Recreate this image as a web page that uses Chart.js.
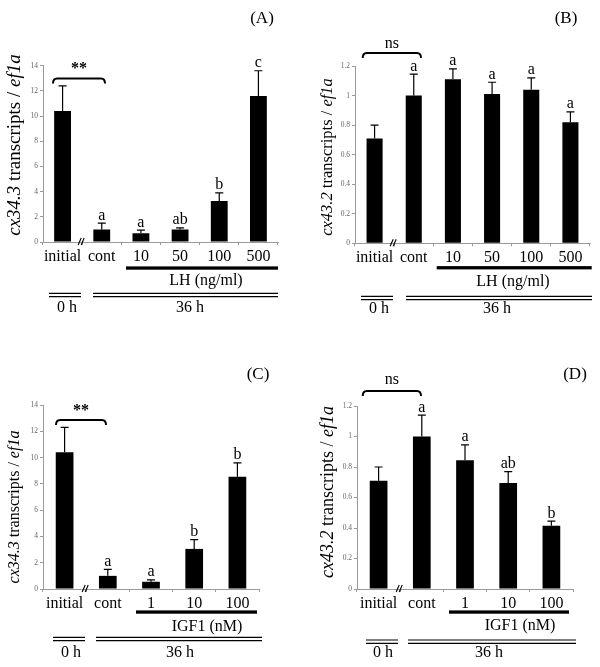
<!DOCTYPE html>
<html>
<head>
<meta charset="utf-8">
<script src="https://cdn.jsdelivr.net/npm/chart.js@4.4.0/dist/chart.umd.min.js"></script>
<style>
  html, body { margin: 0; padding: 0; background: #fff; }
  #wrap { position: relative; width: 600px; height: 667px; }
  canvas { position: absolute; }
</style>
</head>
<body>
<div id="wrap">
  <canvas id="chartA" width="300" height="333" style="left:0;top:0"></canvas>
  <canvas id="chartB" width="300" height="333" style="left:300px;top:0"></canvas>
  <canvas id="chartC" width="300" height="334" style="left:0;top:333px"></canvas>
  <canvas id="chartD" width="300" height="334" style="left:300px;top:333px"></canvas>
</div>
<script>
// categories
const lhGroups = ['initial', 'cont', '10', '50', '100', '500'];
const igfGroups = ['initial', 'cont', '1', '10', '100'];

// (A) cx34.3, LH
const cx34LH = [10.4, 1.0, 0.69, 1.0, 3.25, 11.6];
const cx34LHUpper = [12.4, 1.5, 0.95, 1.12, 3.9, 13.6];
const cx34LHLetters = ['', 'a', 'a', 'ab', 'b', 'c'];

// (B) cx43.2, LH
const cx43LH = [0.71, 1.0, 1.11, 1.01, 1.04, 0.82];
const cx43LHUpper = [0.80, 1.145, 1.18, 1.09, 1.12, 0.89];
const cx43LHLetters = ['', 'a', 'a', 'a', 'a', 'a'];

// (C) cx34.3, IGF1
const cx34IGF = [10.4, 1.0, 0.55, 3.05, 8.55];
const cx34IGFUpper = [12.3, 1.5, 0.7, 3.75, 9.6];
const cx34IGFLetters = ['', 'a', 'a', 'b', 'b'];

// (D) cx43.2, IGF1
const cx43IGF = [0.71, 1.0, 0.845, 0.695, 0.415];
const cx43IGFUpper = [0.80, 1.14, 0.945, 0.77, 0.445];
const cx43IGFLetters = ['', 'a', 'a', 'ab', 'b'];

// y tick labels
const yTicks34 = [0, 2, 4, 6, 8, 10, 12, 14];
const yTicks43 = [0, 0.2, 0.4, 0.6, 0.8, 1, 1.2];

const SERIF = "'Liberation Serif', 'Times New Roman', serif";

// draws error bars, letters, brackets and the treatment/time bars under the axis
const decoPlugin = {
  id: 'deco',
  afterDatasetsDraw(chart, args, o) {
    const ctx = chart.ctx;
    const xs = chart.scales.x, ys = chart.scales.y;
    const ca = chart.chartArea;
    const vals = chart.data.datasets[0].data;
    ctx.save();
    ctx.strokeStyle = '#000';
    ctx.fillStyle = '#000';

    // error bars + letters
    ctx.lineWidth = 1.2;
    ctx.font = '16px ' + SERIF;
    ctx.textAlign = 'center';
    ctx.textBaseline = 'alphabetic';
    vals.forEach((v, i) => {
      const x = xs.getPixelForValue(i);
      const y0 = ys.getPixelForValue(v);
      const y1 = ys.getPixelForValue(o.upper[i]);
      ctx.beginPath();
      ctx.moveTo(x, y0);
      ctx.lineTo(x, y1);
      ctx.moveTo(x - 4, y1);
      ctx.lineTo(x + 4, y1);
      ctx.stroke();
      if (o.letters[i]) ctx.fillText(o.letters[i], x, y1 - 3.5);
    });

    // axis break between initial and cont
    const xm = (xs.getPixelForValue(0) + xs.getPixelForValue(1)) / 2;
    const ym = ca.bottom;
    ctx.lineWidth = 1.1;
    ctx.beginPath();
    for (let k = 0; k < 2; k++) {
      ctx.moveTo(xm - 4 + 3 * k, ym + 3);
      ctx.lineTo(xm - 1 + 3 * k, ym - 4);
    }
    ctx.stroke();

    // bracket over initial / cont
    const b = o.bracket;
    ctx.lineWidth = 2;
    ctx.beginPath();
    ctx.moveTo(b.x0, b.y + 5);
    ctx.quadraticCurveTo(b.x0, b.y, b.x0 + 4, b.y);
    ctx.lineTo(b.x1 - 4, b.y);
    ctx.quadraticCurveTo(b.x1, b.y, b.x1, b.y + 5);
    ctx.stroke();
    ctx.font = (b.label === '**' ? 'bold ' : '') + '16px ' + SERIF;
    ctx.textBaseline = 'middle';
    ctx.fillText(b.label, (b.x0 + b.x1) / 2, b.ly);

    // panel letter
    ctx.font = '17px ' + SERIF;
    ctx.fillText(o.panel.text, o.panel.x, o.panel.y);

    // treatment bar
    const t = o.treat;
    ctx.fillRect(t.x0, t.y - 1.6, t.x1 - t.x0, 3.3);
    ctx.font = '16px ' + SERIF;
    ctx.fillText(t.label, t.lx, t.ly);

    // time double lines
    const h = o.time;
    ctx.lineWidth = 1.2;
    ctx.beginPath();
    [h.a, h.b].forEach(seg => {
      ctx.moveTo(seg[0], h.y - 1.7); ctx.lineTo(seg[1], h.y - 1.7);
      ctx.moveTo(seg[0], h.y + 1.7); ctx.lineTo(seg[1], h.y + 1.7);
    });
    ctx.stroke();
    ctx.fillText('0 h', h.la, h.ly);
    ctx.fillText('36 h', h.lb, h.ly);

    // y axis title, mixed italic
    const yt = o.ytitle;
    ctx.translate(yt.x, yt.y);
    ctx.rotate(-Math.PI / 2);
    ctx.textAlign = 'left';
    const parts = [[yt.gene, true], [' transcripts / ', false], ['ef1a', true]];
    const fontOf = it => (it ? 'italic ' : '') + yt.size + 'px ' + SERIF;
    let total = 0;
    parts.forEach(p => { ctx.font = fontOf(p[1]); total += ctx.measureText(p[0]).width; });
    let cx = -total / 2;
    parts.forEach(p => {
      ctx.font = fontOf(p[1]);
      ctx.fillText(p[0], cx, 0);
      cx += ctx.measureText(p[0]).width;
    });
    ctx.restore();
  }
};

function makeChart(id, groups, values, upper, letters, ticks, yMax, L) {
  const canvas = document.getElementById(id);
  const W = canvas.width, H = canvas.height;
  return new Chart(canvas, {
    type: 'bar',
    data: {
      labels: groups,
      datasets: [{
        data: values,
        backgroundColor: '#000',
        borderWidth: 0,
        barPercentage: L.barPct,
        categoryPercentage: 1
      }]
    },
    options: {
      responsive: false,
      animation: false,
      layout: { padding: { left: 0, top: L.area.top, right: W - L.area.right, bottom: 0 } },
      plugins: {
        legend: { display: false },
        tooltip: { enabled: false },
        deco: {
          upper: upper, letters: letters,
          bracket: L.bracket, panel: L.panel, treat: L.treat, time: L.time, ytitle: L.ytitle
        }
      },
      scales: {
        x: {
          afterFit: s => { s.height = H - L.area.bottom; },
          border: { color: '#9a9a9a', width: 1 },
          grid: { drawOnChartArea: false, tickLength: 3, color: '#9a9a9a', offset: true },
          ticks: { font: { family: SERIF, size: 16 }, color: '#000', padding: 2, maxRotation: 0, autoSkip: false }
        },
        y: {
          min: 0,
          max: yMax,
          afterBuildTicks: s => { s.ticks = ticks.map(v => ({ value: v })); },
          afterFit: s => { s.width = L.area.left; },
          border: { color: '#9a9a9a', width: 1 },
          grid: { drawOnChartArea: false, tickLength: 3, color: '#9a9a9a' },
          ticks: { font: { family: SERIF, size: 7.5 }, color: '#666', padding: 2, callback: v => String(v) }
        }
      }
    },
    plugins: [decoPlugin]
  });
}

makeChart('chartA', lhGroups, cx34LH, cx34LHUpper, cx34LHLetters, yTicks34, 14, {
  area: { left: 43, right: 278, top: 65.7, bottom: 242 },
  barPct: 0.43,
  panel: { text: '(A)', x: 262, y: 19 },
  ytitle: { gene: 'cx34.3', x: 15, y: 145, size: 19 },
  bracket: { x0: 53, x1: 105, y: 78.5, label: '**', ly: 69 },
  treat: { x0: 126, x1: 278, y: 268, label: 'LH (ng/ml)', lx: 206, ly: 281 },
  time: { y: 295, a: [49, 81], b: [93, 278], ly: 308, la: 67, lb: 190 }
});

makeChart('chartB', lhGroups, cx43LH, cx43LHUpper, cx43LHLetters, yTicks43, 1.2, {
  area: { left: 55, right: 290, top: 66, bottom: 243.3 },
  barPct: 0.41,
  panel: { text: '(B)', x: 266, y: 19 },
  ytitle: { gene: 'cx43.2', x: 28, y: 157, size: 16.5 },
  bracket: { x0: 62.7, x1: 121, y: 53, label: 'ns', ly: 44 },
  treat: { x0: 136.7, x1: 291.7, y: 267.7, label: 'LH (ng/ml)', lx: 213, ly: 282 },
  time: { y: 298, a: [61, 93], b: [106, 292], ly: 309, la: 79, lb: 197 }
});

makeChart('chartC', igfGroups, cx34IGF, cx34IGFUpper, cx34IGFLetters, yTicks34, 14, {
  area: { left: 43, right: 259, top: 72, bottom: 256 },
  barPct: 0.41,
  panel: { text: '(C)', x: 258, y: 42 },
  ytitle: { gene: 'cx34.3', x: 15, y: 174, size: 16 },
  bracket: { x0: 56, x1: 106, y: 87, label: '**', ly: 78 },
  treat: { x0: 136, x1: 257, y: 279, label: 'IGF1 (nM)', lx: 207, ly: 294 },
  time: { y: 306, a: [53, 85], b: [96, 262], ly: 320, la: 71, lb: 180 }
});

makeChart('chartD', igfGroups, cx43IGF, cx43IGFUpper, cx43IGFLetters, yTicks43, 1.2, {
  area: { left: 57, right: 273, top: 73, bottom: 256 },
  barPct: 0.41,
  panel: { text: '(D)', x: 275, y: 42 },
  ytitle: { gene: 'cx43.2', x: 28, y: 159, size: 18 },
  bracket: { x0: 62.7, x1: 121, y: 58, label: 'ns', ly: 47 },
  treat: { x0: 149, x1: 269, y: 279, label: 'IGF1 (nM)', lx: 220, ly: 293 },
  time: { y: 308.7, a: [66, 98], b: [108, 276], ly: 320, la: 83, lb: 189 }
});
</script>
</body>
</html>
